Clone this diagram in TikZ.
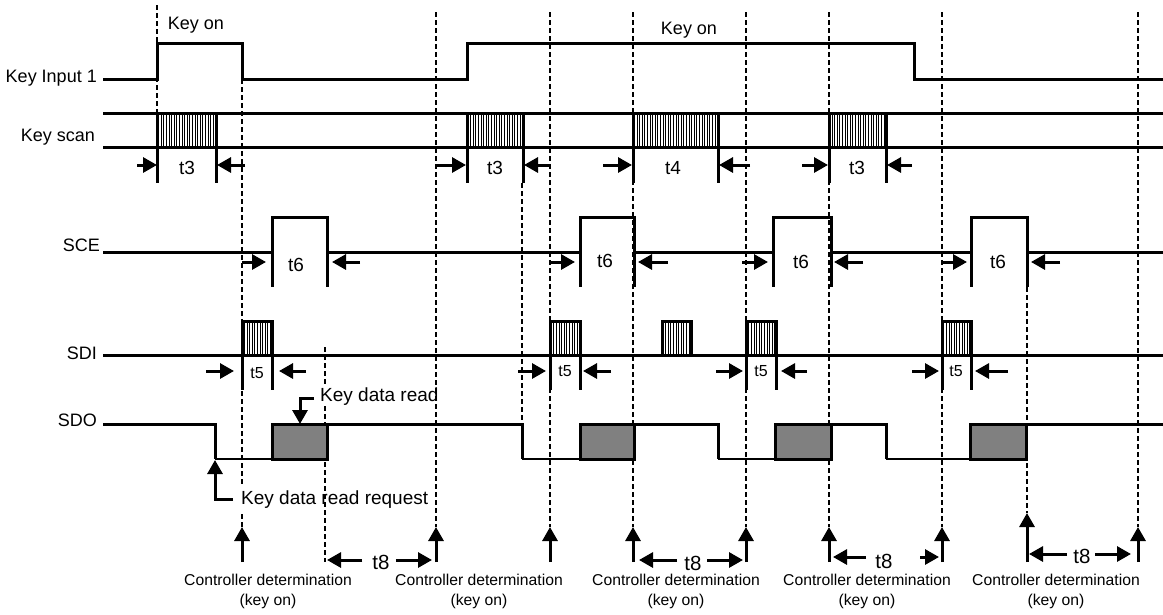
\documentclass[tikz,border=0pt]{standalone}
\usepackage{fontspec}
\setmainfont{Liberation Sans}
\usetikzlibrary{arrows.meta,patterns.meta}
\begin{document}
\begin{tikzpicture}[x=1pt,y=-1pt,
  sig/.style={line width=3pt,line join=miter},
  thin sig/.style={line width=2.2pt},
  vline/.style={line width=1.5pt,dash pattern=on 5pt off 3pt},
  arr/.style={-{Triangle[length=14pt,width=15pt]},line width=3pt},
  lab/.style={font=\fontsize{18}{20}\selectfont,inner sep=0pt},
  alab/.style={font=\fontsize{19}{21}\selectfont,inner sep=0pt},
  tlab/.style={font=\fontsize{19}{21}\selectfont,inner sep=0pt},
  t5lab/.style={font=\fontsize{16}{18}\selectfont,inner sep=0pt},
  t8lab/.style={font=\fontsize{20.5}{22}\selectfont,inner sep=0pt},
  clab/.style={font=\fontsize{15.7}{17}\selectfont,inner sep=0pt},
  hatch/.style={pattern={Lines[angle=90,distance=2.6pt,line width=0.7pt]}},
  databox/.style={fill=gray,draw=black,line width=3pt}]
\useasboundingbox (0,0) rectangle (1163,614);

% ---------- signal names ----------
\node[lab,anchor=east] (kin) at (97,78) {Key Input 1};
\node[lab,anchor=east] (ksc) at (95,137) {Key scan};
\node[lab,anchor=east] (sce) at (100,245) {SCE};
\node[lab,anchor=east] (sdi) at (97,353) {SDI};
\node[lab,anchor=east] (sdo) at (97,420) {SDO};
\node[lab] (kon1) at (196,25) {Key on};
\node[lab] (kon2) at (689,30) {Key on};

% ---------- dashed verticals ----------
\draw[vline] (157,5) -- (157,183);
\draw[vline] (242,79) -- (242,484);
\draw[vline] (242,514) -- (242,527);
\draw[vline] (325,347) -- (325,386);
\draw[vline] (325,406) -- (325,562);
\draw[vline] (522,183) -- (522,433);
\foreach \x in {436,550,633,746,829,942,1138}
  \draw[vline] (\x,12) -- (\x,527);
\draw[vline] (1027,287) -- (1027,513);

% ---------- Key Input 1 ----------
\draw[sig] (103,79) -- (157,79) -- (157,43) -- (242,43) -- (242,79) -- (467,79)
  -- (467,43) -- (914,43) -- (914,79) -- (1163,79);

% ---------- Key scan ----------
\foreach \a/\b in {157/216,467/523,633/718,829/886}{
  \fill[hatch] (\a,113) rectangle (\b,147);
  \draw[sig] (\a,113) -- (\a,183);
  \draw[sig] (\b,113) -- (\b,183);
}
\draw[sig] (103,113) -- (1163,113);
\draw[sig] (103,147) -- (1163,147);
\foreach \la/\lb/\ra/\rb in {137/157/245/217,436/466/550/524,603/632/750/719,802/828/912/887}{
  \draw[arr] (\la,165) -- (\lb,165);
  \draw[arr] (\ra,165) -- (\rb,165);
}
\node[tlab] (t3a) at (187,168) {t3};
\node[tlab] (t3b) at (495,168) {t3};
\node[tlab] (t4) at (673,168) {t4};
\node[tlab] (t3c) at (857,168) {t3};

% ---------- SCE ----------
\draw[sig] (103,252) -- (272,252) -- (272,217) -- (327,217) -- (327,252)
  -- (580,252) -- (580,217) -- (634,217) -- (634,252)
  -- (773,252) -- (773,217) -- (831,217) -- (831,252)
  -- (971,252) -- (971,217) -- (1027,217) -- (1027,252) -- (1163,252);
\foreach \x in {272,327,580,634,773,831,971,1027}
  \draw[sig] (\x,250) -- (\x,287);
\foreach \la/\lb/\ra/\rb in {242/266/360/332,550/575/668/638,742/768/863/834,942/967/1060/1031}{
  \draw[arr] (\la,262) -- (\lb,262);
  \draw[arr] (\ra,262) -- (\rb,262);
}
\node[tlab] (t6a) at (296,265) {t6};
\node[tlab] (t6b) at (605,261) {t6};
\node[tlab] (t6c) at (801,262) {t6};
\node[tlab] (t6d) at (998,262) {t6};

% ---------- SDI ----------
\foreach \a/\b in {242/272,550/580,746/776,942/971}{
  \fill[hatch] (\a,321) rectangle (\b,355);
  \draw[sig] (\a,390) -- (\a,321) -- (\b,321) -- (\b,390);
}
\fill[hatch] (662,321) rectangle (691,355);
\draw[sig] (662,355) -- (662,321) -- (691,321) -- (691,355);
\draw[sig] (103,355) -- (1163,355);
\foreach \la/\lb/\ra/\rb in {206/234/306/279,518/546/611/583,716/743/807/781,912/939/1008/975}{
  \draw[arr] (\la,371) -- (\lb,371);
  \draw[arr] (\ra,371) -- (\rb,371);
}
\node[t5lab] (t5a) at (257,373) {t5};
\node[t5lab] (t5b) at (565,371) {t5};
\node[t5lab] (t5c) at (761,371) {t5};
\node[t5lab] (t5d) at (956,371) {t5};

% ---------- SDO ----------
\draw[sig] (103,424) -- (215,424) -- (215,459);
\draw[thin sig] (215,459) -- (272,459);
\draw[sig] (327,424) -- (522,424) -- (522,459);
\draw[thin sig] (522,459) -- (580,459);
\draw[sig] (634,424) -- (718,424) -- (718,459);
\draw[thin sig] (718,459) -- (775,459);
\draw[sig] (831,424) -- (886,424) -- (886,459);
\draw[thin sig] (886,459) -- (970,459);
\draw[sig] (1026,424) -- (1163,424);
\foreach \a/\b in {272/327,580/634,775/831,970/1026}
  \draw[databox] (\a,424) rectangle (\b,459);

% annotations
\node[alab,anchor=west] (kdr) at (320,397) {Key data read};
\draw[arr] (kdr.west) ++(-6,1) -- (300,398) -- (300,424);
\node[alab,anchor=west] (kdrr) at (241,500) {Key data read request};
\draw[arr] (233,499) -- (215,499) -- (215,460);

% ---------- controller determination ----------
\foreach \x in {242,436,550,633,746,829,942,1138}
  \draw[arr] (\x,562) -- (\x,527);
\draw[arr] (1027,562) -- (1027,513);

\foreach \cx [count=\i] in {268,479,676,867,1056}{
  \node[clab] (cd\i) at (\cx,580) {Controller determination};
  \node[clab] (ko\i) at (\cx,601) {(key on)};
}

% ---------- t8 ----------
\node[t8lab] (t8a) at (381,562) {t8};
\draw[arr] (t8a.west) ++(-10,-2) -- (327,560);
\draw[arr] (t8a.east) ++(6,-2) -- (432,560);
\node[t8lab] (t8b) at (693,563) {t8};
\draw[arr] (677,560) -- (639,560);
\draw[arr] (707,560) -- (743,560);
\node[t8lab] (t8c) at (884,561) {t8};
\draw[arr] (866,557) -- (833,557);
\draw[arr] (920,557) -- (939,557);
\node[t8lab] (t8d) at (1082,556) {t8};
\draw[arr] (1067,554) -- (1029,554);
\draw[arr] (1095,554) -- (1131,554);
\end{tikzpicture}
\end{document}
